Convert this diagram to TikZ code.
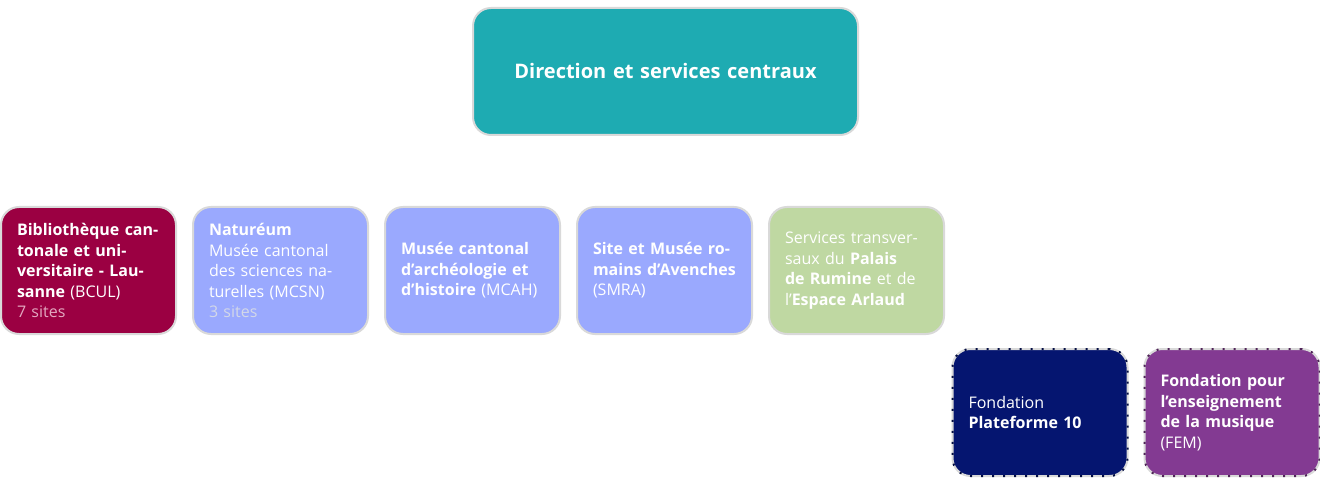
\documentclass[tikz,border=0pt]{standalone}
\usepackage{fontspec}
\setmainfont{Open Sans}
\usepackage{tikz}
\usetikzlibrary{positioning}

\definecolor{direction}{HTML}{1EABB2}
\definecolor{bcul}{HTML}{9B0042}
\definecolor{musee}{HTML}{9AA9FE}
\definecolor{transv}{HTML}{BFD8A2}
\definecolor{navy}{HTML}{051570}
\definecolor{fem}{HTML}{833A92}
\definecolor{sitesA}{HTML}{E3A9C0}
\definecolor{sitesB}{HTML}{D3D8E8}

\tikzset{
  unit/.style={draw=gray!30, line width=2pt, rounded corners=18pt, fill=#1,
    minimum width=175pt, minimum height=127pt, text width=143pt,
    inner xsep=16pt, align=left, text=white,
    font=\fontsize{16}{20.5}\selectfont},
  fondation/.style={unit=#1, postaction={draw=#1!60!black, line width=2pt,
    rounded corners=18pt, dash pattern=on 2pt off 9pt}},
}

\begin{document}
\begin{tikzpicture}[x=1pt,y=-1pt]
\useasboundingbox (0,0) rectangle (1320,481);

% Direction
\node[unit=direction, minimum width=385pt, text width=353pt, align=center,
  font=\fontsize{20}{24}\selectfont\bfseries] (dir) at (665.5,71.5)
  {Direction et services centraux};

% Units
\node[unit=bcul] (bcul) at (88.5,270.5)
  {\textbf{Bibliothèque cantonale et universitaire - Lausanne} (BCUL)\\
   \textcolor{sitesA}{7 sites}};
\node[unit=musee, right=15pt of bcul] (mcsn)
  {\textbf{Naturéum}\\Musée cantonal des sciences naturelles (MCSN)\\
   \textcolor{sitesB}{3 sites}};
\node[unit=musee, right=15pt of mcsn] (mcah)
  {\textbf{Musée cantonal d’archéologie et d’histoire} (MCAH)};
\node[unit=musee, right=15pt of mcah] (smra)
  {\textbf{Site et Musée romains d’Avenches} (SMRA)};
\node[unit=transv, right=15pt of smra] (prea)
  {Services transversaux du \textbf{Palais de Rumine} et de l’\textbf{Espace Arlaud}};

% Fondations
\node[fondation=navy] (pf10) at (1040,412.5)
  {Fondation\\\textbf{Plateforme 10}};
\node[fondation=fem, right=15pt of pf10] (fem)
  {\textbf{Fondation pour l’enseignement de la musique} (FEM)};
\end{tikzpicture}
\end{document}
